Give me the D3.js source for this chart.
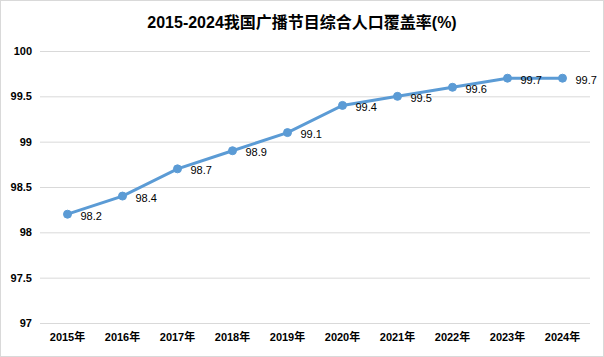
<!DOCTYPE html>
<html><head><meta charset="utf-8">
<script src="https://cdn.jsdelivr.net/npm/d3@7"></script>
<style>body{margin:0;background:#fff}svg{display:block}</style>
</head><body>
<script>
const title = "2015-2024我国广播节目综合人口覆盖率(%)";
const categories = ["2015年","2016年","2017年","2018年","2019年","2020年","2021年","2022年","2023年","2024年"];
const values = [98.2,98.4,98.7,98.9,99.1,99.4,99.5,99.6,99.7,99.7];
const yTicks = [97,97.5,98,98.5,99,99.5,100];

const W=604,H=357;
const svg=d3.select("body").append("svg").attr("width",W).attr("height",H);
svg.append("rect").attr("x",0.5).attr("y",0.5).attr("width",W-1).attr("height",H-1).attr("fill","#fff").attr("stroke","#d9d9d9");
const m={l:40,r:14,t:51,b:34};
const x=d3.scaleBand().domain(categories).range([m.l,W-m.r]);
const y=d3.scaleLinear().domain([97,100]).range([H-m.b,m.t]);
const font="'Liberation Sans', Arial, 'Noto Sans CJK SC', sans-serif";

svg.append("text").attr("x",W/2).attr("y",28).attr("text-anchor","middle")
 .attr("font-family",font).attr("font-weight","bold").attr("font-size",16).attr("fill","#000").text(title);

const ya=svg.append("g").attr("transform",`translate(${m.l},0)`)
 .call(d3.axisLeft(y).tickValues(yTicks).tickSize(-(W-m.l-m.r)).tickFormat(d=>d3.format("")(d)).tickPadding(8));
ya.select(".domain").remove();
ya.selectAll(".tick line").attr("stroke","#d9d9d9");
ya.selectAll(".tick text").attr("font-family",font).attr("font-weight","bold").attr("font-size",11).attr("fill","#000");

const xa=svg.append("g").attr("transform",`translate(0,${H-m.b})`)
 .call(d3.axisBottom(x).tickSize(0).tickPadding(10));
xa.select(".domain").remove();
xa.selectAll(".tick text").attr("font-family",font).attr("font-weight","bold").attr("font-size",11).attr("fill","#000");

const cx=d=>x(d)+x.bandwidth()/2;
const data=categories.map((c,i)=>({c,v:values[i]}));
svg.append("path").datum(data).attr("fill","none").attr("stroke","#5b9bd5").attr("stroke-width",3)
 .attr("d",d3.line().x(d=>cx(d.c)).y(d=>y(d.v)));
svg.selectAll("circle.p").data(data).enter().append("circle").attr("cx",d=>cx(d.c)).attr("cy",d=>y(d.v)).attr("r",4)
 .attr("fill","#5b9bd5").attr("stroke","#5b9bd5");
svg.selectAll("text.l").data(data).enter().append("text").attr("x",d=>cx(d.c)+13).attr("y",d=>y(d.v)+5.5)
 .attr("font-family",font).attr("font-size",11).attr("fill","#000").text(d=>d.v);
</script>
</body></html>
